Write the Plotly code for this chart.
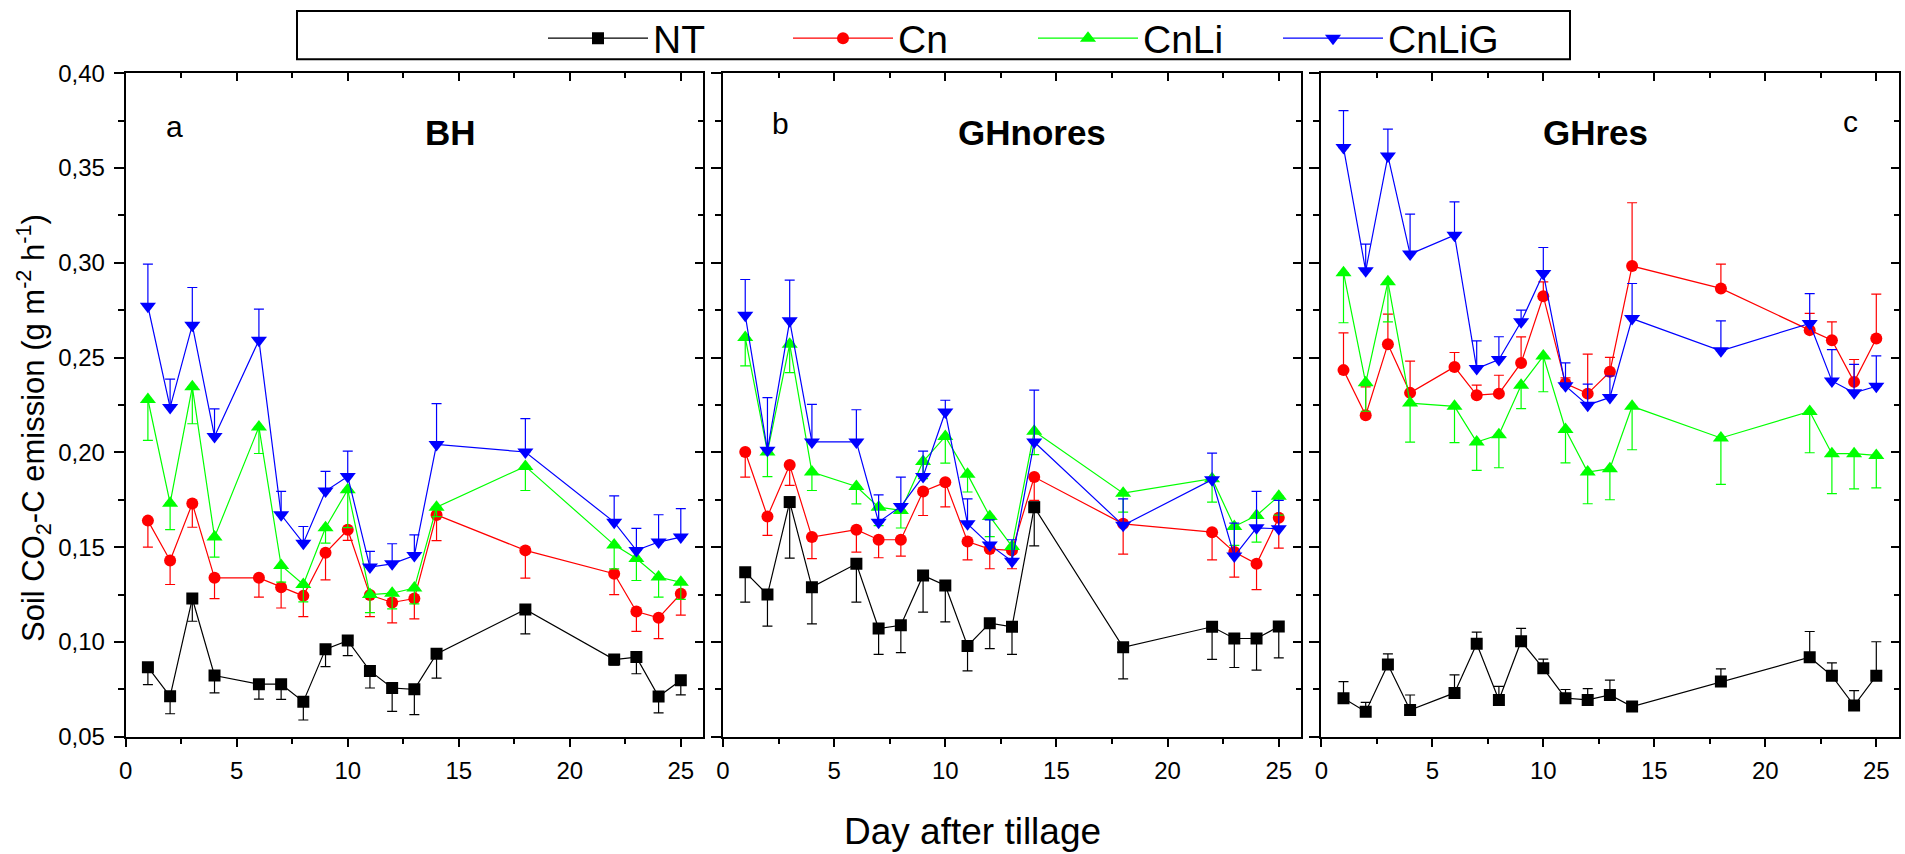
import plotly.graph_objects as go

# ---------------- data ----------------
days = [1, 2, 3, 4, 6, 7, 8, 9, 10, 11, 12, 13, 14, 18, 22, 23, 24, 25]
series_names = ["NT", "Cn", "CnLi", "CnLiG"]
panel_titles = ["BH", "GHnores", "GHres"]
panel_letters = ["a", "b", "c"]
x_tick_values = [0, 5, 10, 15, 20, 25]
x_tick_labels = ["0", "5", "10", "15", "20", "25"]
y_tick_values = [0.05, 0.10, 0.15, 0.20, 0.25, 0.30, 0.35, 0.40]

# panel a (BH)
nt_a = [0.0867, 0.0713, 0.1229, 0.0823, 0.0777, 0.0777, 0.0685, 0.0962, 0.1007, 0.0847, 0.0757, 0.0750, 0.0937, 0.1171, 0.0907, 0.0920, 0.0712, 0.0798]
nt_a_err = [0.0092, 0.0092, 0.0120, 0.0092, 0.0079, 0.0080, 0.0097, 0.0092, 0.0079, 0.0090, 0.0123, 0.0134, 0.0128, 0.0128, 0.0030, 0.0088, 0.0086, 0.0077]
cn_a = [0.1640, 0.1430, 0.1730, 0.1338, 0.1338, 0.1289, 0.1243, 0.1470, 0.1592, 0.1247, 0.1208, 0.1229, 0.1670, 0.1483, 0.1360, 0.1160, 0.1127, 0.1254]
cn_a_err = [0.0140, 0.0127, 0.0125, 0.0110, 0.0102, 0.0110, 0.0110, 0.0143, 0.0056, 0.0114, 0.0107, 0.0107, 0.0136, 0.0146, 0.0110, 0.0104, 0.0110, 0.0113]
cnli_a = [0.2279, 0.1732, 0.2346, 0.1553, 0.2134, 0.1403, 0.1303, 0.1602, 0.1803, 0.1250, 0.1257, 0.1284, 0.1711, 0.1926, 0.1512, 0.1440, 0.1342, 0.1315]
cnli_a_err = [0.0216, 0.0139, 0.0195, 0.0106, 0.0140, 0.0088, 0.0092, 0.0081, 0.0200, 0.0095, 0.0083, 0.0083, 0.0050, 0.0127, 0.0127, 0.0116, 0.0106, 0.0090]
cnlig_a = [0.2771, 0.2237, 0.2671, 0.2084, 0.2592, 0.1671, 0.1521, 0.1796, 0.1873, 0.1395, 0.1412, 0.1456, 0.2042, 0.2002, 0.1632, 0.1483, 0.1527, 0.1553]
cnlig_a_err = [0.0222, 0.0150, 0.0199, 0.0146, 0.0164, 0.0123, 0.0088, 0.0104, 0.0134, 0.0083, 0.0106, 0.0109, 0.0215, 0.0176, 0.0139, 0.0116, 0.0144, 0.0150]

# panel b (GHnores)
nt_b = [0.1368, 0.1250, 0.1738, 0.1289, 0.1412, 0.1071, 0.1088, 0.1351, 0.1298, 0.0979, 0.1099, 0.1080, 0.1711, 0.0972, 0.1080, 0.1018, 0.1018, 0.1081]
nt_b_err = [0.0158, 0.0167, 0.0296, 0.0194, 0.0202, 0.0137, 0.0144, 0.0194, 0.0192, 0.0132, 0.0134, 0.0146, 0.0204, 0.0167, 0.0172, 0.0153, 0.0167, 0.0165]
cn_b = [0.2002, 0.1662, 0.1933, 0.1553, 0.1592, 0.1539, 0.1539, 0.1794, 0.1842, 0.1530, 0.1490, 0.1483, 0.1870, 0.1623, 0.1579, 0.1474, 0.1412, 0.1655]
cn_b_err = [0.0132, 0.0100, 0.0107, 0.0114, 0.0118, 0.0095, 0.0086, 0.0127, 0.0130, 0.0097, 0.0104, 0.0097, 0.0123, 0.0160, 0.0146, 0.0132, 0.0136, 0.0160]
cnli_b = [0.2606, 0.2002, 0.2571, 0.1896, 0.1820, 0.1711, 0.1694, 0.1952, 0.2084, 0.1884, 0.1662, 0.1504, 0.2111, 0.1785, 0.1861, 0.1609, 0.1667, 0.1769]
cnli_b_err = [0.0150, 0.0130, 0.0150, 0.0097, 0.0092, 0.0097, 0.0093, 0.0090, 0.0141, 0.0093, 0.0106, 0.0080, 0.0123, 0.0100, 0.0123, 0.0100, 0.0140, 0.0100]
cnlig_b = [0.2724, 0.2011, 0.2694, 0.2055, 0.2055, 0.1632, 0.1715, 0.1873, 0.2213, 0.1623, 0.1512, 0.1426, 0.2055, 0.1615, 0.1856, 0.1453, 0.1602, 0.1597]
cnlig_b_err = [0.0188, 0.0278, 0.0215, 0.0198, 0.0170, 0.0144, 0.0155, 0.0134, 0.0062, 0.0132, 0.0132, 0.0113, 0.0273, 0.0140, 0.0140, 0.0174, 0.0192, 0.0150]

# panel c (GHres)
nt_c = [0.0703, 0.0632, 0.0881, 0.0641, 0.0731, 0.0990, 0.0694, 0.1004, 0.0861, 0.0703, 0.0694, 0.0720, 0.0659, 0.0791, 0.0919, 0.0821, 0.0664, 0.0821]
nt_c_err = [0.0088, 0.0049, 0.0056, 0.0079, 0.0095, 0.0062, 0.0072, 0.0067, 0.0048, 0.0046, 0.0060, 0.0079, 0.0020, 0.0067, 0.0136, 0.0069, 0.0079, 0.0180]
cn_c = [0.2434, 0.2196, 0.2571, 0.2314, 0.2451, 0.2302, 0.2310, 0.2472, 0.2824, 0.2363, 0.2310, 0.2425, 0.2983, 0.2865, 0.2645, 0.2592, 0.2372, 0.2601]
cn_c_err = [0.0197, 0.0150, 0.0158, 0.0167, 0.0076, 0.0053, 0.0097, 0.0137, 0.0076, 0.0030, 0.0208, 0.0076, 0.0334, 0.0128, 0.0088, 0.0097, 0.0118, 0.0234]
cnli_c = [0.2948, 0.2367, 0.2900, 0.2260, 0.2243, 0.2055, 0.2093, 0.2354, 0.2508, 0.2121, 0.1896, 0.1914, 0.2243, 0.2076, 0.2216, 0.1993, 0.1993, 0.1984]
cnli_c_err = [0.0264, 0.0150, 0.0211, 0.0206, 0.0192, 0.0150, 0.0174, 0.0123, 0.0188, 0.0176, 0.0167, 0.0164, 0.0229, 0.0245, 0.0218, 0.0211, 0.0185, 0.0171]
cnlig_c = [0.3608, 0.2958, 0.3564, 0.3046, 0.3146, 0.2442, 0.2490, 0.2689, 0.2944, 0.2351, 0.2249, 0.2290, 0.2706, 0.2536, 0.2680, 0.2377, 0.2314, 0.2349]
cnlig_c_err = [0.0195, 0.0141, 0.0141, 0.0211, 0.0176, 0.0146, 0.0120, 0.0062, 0.0137, 0.0121, 0.0111, 0.0113, 0.0185, 0.0158, 0.0158, 0.0165, 0.0150, 0.0160]

# ---------------- styles ----------------
W, H = 1905, 854
FONT = "Liberation Sans, Arial, sans-serif"
colors = {"NT": "#000000", "Cn": "#ff0000", "CnLi": "#00ff00", "CnLiG": "#0000ff"}
symbols = {"NT": "square", "Cn": "circle", "CnLi": "triangle-up", "CnLiG": "triangle-down"}
msize = {"NT": 12, "Cn": 12, "CnLi": 14, "CnLiG": 14}
# error bar direction per panel ("up" = plus only, "down" = minus only)
err_dir = [
    {"NT": "down", "Cn": "down", "CnLi": "down", "CnLiG": "up"},
    {"NT": "down", "Cn": "down", "CnLi": "down", "CnLiG": "up"},
    {"NT": "up", "Cn": "up", "CnLi": "down", "CnLiG": "up"},
]
panels = [
    {"NT": (nt_a, nt_a_err), "Cn": (cn_a, cn_a_err), "CnLi": (cnli_a, cnli_a_err), "CnLiG": (cnlig_a, cnlig_a_err)},
    {"NT": (nt_b, nt_b_err), "Cn": (cn_b, cn_b_err), "CnLi": (cnli_b, cnli_b_err), "CnLiG": (cnlig_b, cnlig_b_err)},
    {"NT": (nt_c, nt_c_err), "Cn": (cn_c, cn_c_err), "CnLi": (cnli_c, cnli_c_err), "CnLiG": (cnlig_c, cnlig_c_err)},
]

# pixel geometry of panels
px_x = [(125.7, 703.0), (723.0, 1301.0), (1321.3, 1898.5)]
px_top, px_bot = 73.3, 736.7
ydom = [1 - px_bot / H, 1 - px_top / H]

fig = go.Figure()
for p in range(3):
    xa = f"x{p + 1}"
    ya = f"y{p + 1}"
    for name in series_names:
        vals, errs = panels[p][name]
        zeros = [0] * len(errs)
        if err_dir[p][name] == "up":
            plus, minus = errs, zeros
        else:
            plus, minus = zeros, errs
        fig.add_trace(go.Scatter(
            x=days, y=vals, name=name, xaxis=xa, yaxis=ya,
            mode="lines+markers", showlegend=(p == 0),
            line=dict(color=colors[name], width=1.2),
            marker=dict(symbol=symbols[name], size=msize[name], color=colors[name],
                        line=dict(width=0)),
            error_y=dict(type="data", symmetric=False, array=plus, arrayminus=minus,
                         color=colors[name], thickness=1.2, width=5),
        ))
    # empty trace to activate the mirrored (inside-tick) axes
    fig.add_trace(go.Scatter(x=[], y=[], xaxis=f"x{p + 4}", yaxis=f"y{p + 4}",
                             showlegend=False, hoverinfo="skip"))

layout = dict(
    width=W, height=H, margin=dict(l=0, r=0, t=0, b=0, pad=0, autoexpand=False),
    paper_bgcolor="white", plot_bgcolor="white",
    separators=", ",
    font=dict(family=FONT, color="black"),
    showlegend=True,
    legend=dict(orientation="h", x=543 / W, xanchor="left", y=1 - 38.3 / H, yanchor="middle",
                font=dict(size=39, family=FONT, color="black"), bgcolor="rgba(0,0,0,0)",
                borderwidth=0, entrywidthmode="pixels", entrywidth=130, itemwidth=100),
)
for p in range(3):
    dom = [px_x[p][0] / W, px_x[p][1] / W]
    layout[f"xaxis{p + 1}"] = dict(
        domain=dom, range=[0, 26], anchor=f"y{p + 1}", showline=True, linecolor="black",
        linewidth=2, mirror=True, ticks="outside", ticklen=8, tickwidth=2, tickcolor="black",
        tickmode="array", tickvals=x_tick_values, ticktext=x_tick_labels,
        minor=dict(ticks="outside", dtick=2.5, tick0=0, ticklen=5, tickwidth=2, tickcolor="black"),
        tickfont=dict(size=24, family=FONT), ticklabelstandoff=3, automargin=False,
        showgrid=False, zeroline=False)
    layout[f"yaxis{p + 1}"] = dict(
        domain=ydom, range=[0.05, 0.40], anchor=f"x{p + 1}", showline=True, linecolor="black",
        linewidth=2, mirror=True, ticks="outside", ticklen=10, tickwidth=2, tickcolor="black",
        tickmode="array", tickvals=y_tick_values, tickformat=".2f",
        minor=dict(ticks="outside", dtick=0.025, tick0=0.05, ticklen=6, tickwidth=2, tickcolor="black"),
        showticklabels=(p == 0), tickfont=dict(size=24, family=FONT), ticklabelstandoff=4,
        automargin=False, showgrid=False, zeroline=False)
    layout[f"xaxis{p + 4}"] = dict(
        overlaying=f"x{p + 1}", side="top", anchor=f"y{p + 4}", range=[0, 26],
        ticks="inside", ticklen=8, tickwidth=2, tickcolor="black",
        tickmode="array", tickvals=x_tick_values,
        minor=dict(ticks="inside", dtick=2.5, tick0=0, ticklen=5, tickwidth=2, tickcolor="black"),
        showticklabels=False, showline=False, showgrid=False, zeroline=False, automargin=False)
    layout[f"yaxis{p + 4}"] = dict(
        overlaying=f"y{p + 1}", side="right", anchor=f"x{p + 4}", range=[0.05, 0.40],
        ticks="inside", ticklen=8, tickwidth=2, tickcolor="black",
        tickmode="array", tickvals=y_tick_values,
        minor=dict(ticks="inside", dtick=0.025, tick0=0.05, ticklen=5, tickwidth=2, tickcolor="black"),
        showticklabels=False, showline=False, showgrid=False, zeroline=False, automargin=False)

fig.update_layout(**layout)

# panel labels and titles
letter_pos = [(174.5, 126.5), (780.0, 124.0), (1850.0, 121.5)]
title_pos = [(450.8, 132.5), (1032.0, 132.5), (1595.0, 132.5)]
for p in range(3):
    fig.add_annotation(text=panel_letters[p], x=letter_pos[p][0] / W, y=1 - letter_pos[p][1] / H,
                       xref="paper", yref="paper", showarrow=False, xanchor="center", yanchor="middle",
                       font=dict(size=30, family=FONT, color="black"))
    fig.add_annotation(text="<b>" + panel_titles[p] + "</b>", x=title_pos[p][0] / W, y=1 - title_pos[p][1] / H,
                       xref="paper", yref="paper", showarrow=False, xanchor="center", yanchor="middle",
                       font=dict(size=35, family=FONT, color="black"))

# axis titles
fig.add_annotation(text="Day after tillage", x=972 / W, y=1 - 831 / H, xref="paper", yref="paper",
                   showarrow=False, xanchor="center", yanchor="middle",
                   font=dict(size=37, family=FONT, color="black"))
fig.add_annotation(text="Soil CO<sub>2</sub>-C emission (g m<sup>-2</sup> h<sup>-1</sup>)",
                   x=33 / W, y=1 - 428 / H, xref="paper", yref="paper", textangle=-90,
                   showarrow=False, xanchor="center", yanchor="middle",
                   font=dict(size=31, family=FONT, color="black"))

# legend frame
fig.add_shape(type="rect", xref="paper", yref="paper", x0=297 / W, x1=1570 / W,
              y0=1 - 59.3 / H, y1=1 - 11 / H, line=dict(color="black", width=2),
              fillcolor="rgba(0,0,0,0)", layer="above")

fig.write_html("out.html", config={"displayModeBar": False},
               post_script="document.body.style.margin='0px';")
